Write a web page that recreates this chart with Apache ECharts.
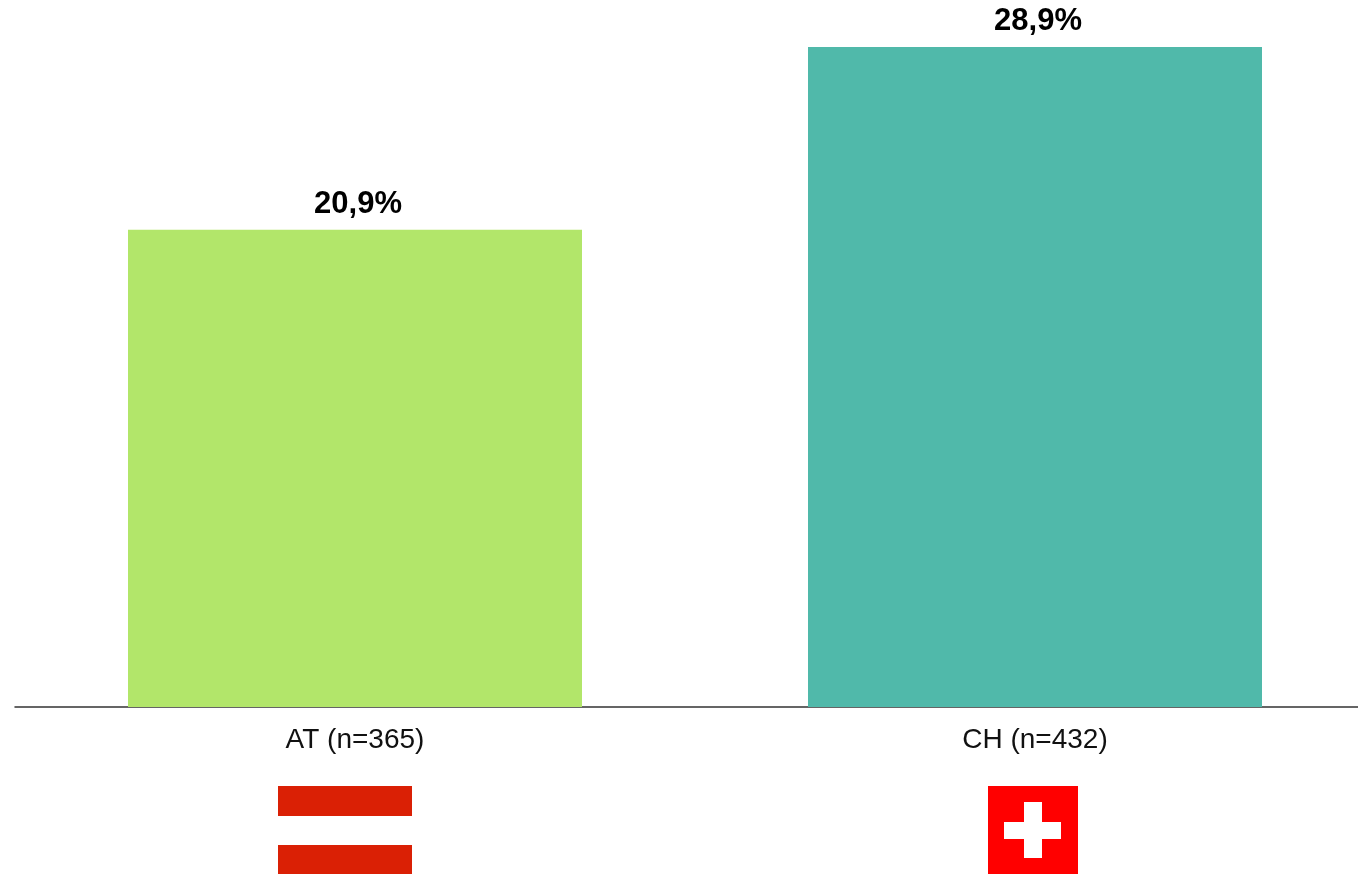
<!DOCTYPE html>
<html>
<head>
<meta charset="utf-8">
<script src="https://cdn.jsdelivr.net/npm/echarts@6/dist/echarts.min.js"></script>
<style>
html, body { margin: 0; padding: 0; background: #fff; overflow: hidden; }
#chart { width: 1358px; height: 874px; }
</style>
</head>
<body>
<div id="chart"></div>
<script>
const categories = ['AT (n=365)', 'CH (n=432)'];
const values = [20.9, 28.9];
const barColors = ['#b2e66a', '#50b9aa'];
const axisMax = 30;

const FONT = '"Liberation Sans", Arial, sans-serif';
const myChart = echarts.init(document.querySelector('#chart'), null, {renderer: 'canvas'});

const option = {
  animation: false,
  // the plot runs a little past the right edge, so the line is cut off there
  grid: {left: 15, width: 1360, top: 22, height: 685, outerBoundsMode: 'none'},
  xAxis: {
    type: 'category',
    data: categories,
    axisLine: {onZero: false, lineStyle: {color: '#333', width: 1.5}},
    axisTick: {show: false},
    axisLabel: {color: '#111', fontFamily: FONT, fontSize: 28, margin: 19, interval: 0}
  },
  yAxis: {
    type: 'value',
    min: 0,
    max: axisMax,
    show: false,
    splitLine: {show: false}
  },
  series: [{
    type: 'bar',
    barWidth: 454,
    data: values.map((v, i) => ({value: v, itemStyle: {color: barColors[i]}})),
    label: {
      show: true,
      position: 'top',
      distance: 10,
      offset: [3, 0],
      color: '#000',
      fontFamily: FONT,
      fontSize: 31,
      fontWeight: 'bold',
      formatter: p => String(p.value).replace('.', ',') + '%'
    }
  }],
  // flags below the axis labels
  graphic: [
    {type: 'rect', shape: {x: 278, y: 786, width: 134, height: 30}, style: {fill: '#da2005'}},
    {type: 'rect', shape: {x: 278, y: 845, width: 134, height: 29}, style: {fill: '#da2005'}},
    {type: 'rect', shape: {x: 988, y: 786, width: 90, height: 88}, style: {fill: '#ff0000'}},
    {type: 'rect', shape: {x: 1024, y: 802, width: 18, height: 56}, style: {fill: '#fff'}},
    {type: 'rect', shape: {x: 1004, y: 822, width: 57, height: 17}, style: {fill: '#fff'}}
  ]
};
myChart.setOption(option);
</script>
</body>
</html>
